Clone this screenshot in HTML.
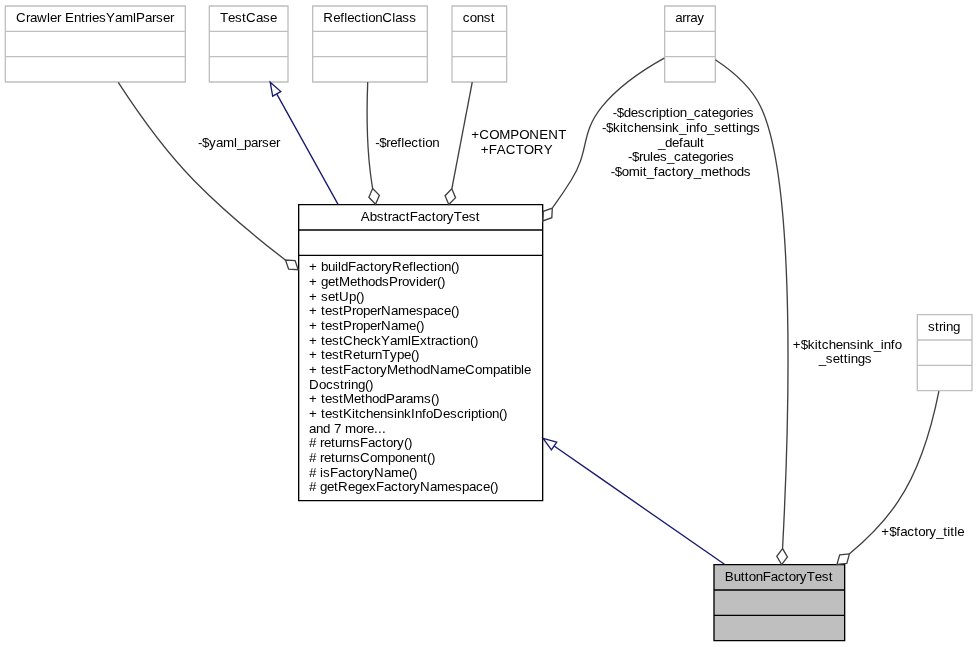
<!DOCTYPE html>
<html lang="en">
<head>
<meta charset="utf-8">
<title>ButtonFactoryTest collaboration diagram</title>
<style>
html,body{margin:0;padding:0;background:#fff;}
svg{display:block;will-change:transform;}
svg text{font-family:"Liberation Sans",sans-serif;font-size:13.3333px;fill:#000;white-space:pre;}
</style>
</head>
<body>
<svg width="977" height="647" viewBox="0 0 977 647">
<g class="graph" transform="scale(1.33333) translate(4 481)">
<polygon fill="white" stroke="transparent" points="-4,4 -4,-481 729,-481 729,4 -4,4"/>
<g class="node">
<polygon fill="#bfbfbf" stroke="black" points="531.5,-0.5 531.5,-57.5 629.5,-57.5 629.5,-0.5 531.5,-0.5"/>
<polyline fill="none" stroke="black" points="531.5,-38.5 629.5,-38.5 "/>
<polyline fill="none" stroke="black" points="531.5,-19.5 629.5,-19.5 "/>
</g>
<g class="node">
<polygon fill="white" stroke="black" points="220,-105.5 220,-327.5 403,-327.5 403,-105.5 220,-105.5"/>
<polyline fill="none" stroke="black" points="220,-308.5 403,-308.5 "/>
<polyline fill="none" stroke="black" points="220,-289.5 403,-289.5 "/>
</g>
<g class="edge">
<path fill="none" stroke="midnightblue" d="M411.61,-146.47C456.06,-115.61 505.95,-80.99 539.61,-57.58"/>
<polygon fill="none" stroke="midnightblue" points="409.57,-143.62 403.32,-152.18 413.54,-149.38 409.57,-143.62"/>
</g>
<g class="node">
<polygon fill="white" stroke="#bfbfbf" points="0,-419.5 0,-476.5 135,-476.5 135,-419.5 0,-419.5"/>
<polyline fill="none" stroke="#bfbfbf" points="0,-457.5 135,-457.5 "/>
<polyline fill="none" stroke="#bfbfbf" points="0,-438.5 135,-438.5 "/>
</g>
<g class="edge">
<path fill="none" stroke="#404040" d="M84.7,-419.17C98.58,-397.77 119.38,-368.15 141.5,-345.6 162.15,-324.54 186.38,-304.15 209.97,-286.06"/>
<polygon fill="none" stroke="#404040" points="210.11,-285.96 212.48,-279.15 219.68,-278.72 217.31,-285.53 210.11,-285.96"/>
</g>
<g class="node">
<polygon fill="white" stroke="#bfbfbf" points="153,-419.5 153,-476.5 212,-476.5 212,-419.5 153,-419.5"/>
<polyline fill="none" stroke="#bfbfbf" points="153,-457.5 212,-457.5 "/>
<polyline fill="none" stroke="#bfbfbf" points="153,-438.5 212,-438.5 "/>
</g>
<g class="edge">
<path fill="none" stroke="midnightblue" d="M203.65,-410.43C216.16,-387.82 233.01,-357.49 249.62,-327.58"/>
<polygon fill="none" stroke="midnightblue" points="200.51,-408.88 198.66,-419.32 206.61,-412.31 200.51,-408.88"/>
</g>
<g class="node">
<polygon fill="white" stroke="#bfbfbf" points="230.5,-419.5 230.5,-476.5 316.5,-476.5 316.5,-419.5 230.5,-419.5"/>
<polyline fill="none" stroke="#bfbfbf" points="230.5,-457.5 316.5,-457.5 "/>
<polyline fill="none" stroke="#bfbfbf" points="230.5,-438.5 316.5,-438.5 "/>
</g>
<g class="edge">
<path fill="none" stroke="#404040" d="M271.78,-419.41C270.99,-399.02 270.9,-370.64 274.5,-346 274.8,-343.95 275.12,-341.88 275.47,-339.8"/>
<polygon fill="none" stroke="#404040" points="275.5,-339.63 272.66,-333 277.68,-327.83 280.53,-334.46 275.5,-339.63"/>
</g>
<g class="node">
<polygon fill="white" stroke="#bfbfbf" points="335,-419.5 335,-476.5 376,-476.5 376,-419.5 335,-419.5"/>
<polyline fill="none" stroke="#bfbfbf" points="335,-457.5 376,-457.5 "/>
<polyline fill="none" stroke="#bfbfbf" points="335,-438.5 376,-438.5 "/>
</g>
<g class="edge">
<path fill="none" stroke="#404040" d="M350.19,-419.32C346.28,-398.9 340.65,-369.56 334.9,-339.55"/>
<polygon fill="none" stroke="#404040" points="334.87,-339.37 329.81,-334.23 332.61,-327.58 337.66,-332.72 334.87,-339.37"/>
</g>
<g class="node">
<polygon fill="white" stroke="#bfbfbf" points="494.5,-419.5 494.5,-476.5 532.5,-476.5 532.5,-419.5 494.5,-419.5"/>
<polyline fill="none" stroke="#bfbfbf" points="494.5,-457.5 532.5,-457.5 "/>
<polyline fill="none" stroke="#bfbfbf" points="494.5,-438.5 532.5,-438.5 "/>
</g>
<g class="edge">
<path fill="none" stroke="#404040" d="M532.53,-436.18C544.62,-428.17 559.29,-416.05 566.5,-401 594.06,-343.49 587.38,-153.22 582.92,-69.79"/>
<polygon fill="none" stroke="#404040" points="582.91,-69.57 578.59,-63.8 582.25,-57.59 586.57,-63.36 582.91,-69.57"/>
</g>
<g class="edge">
<path fill="none" stroke="#404040" d="M494.21,-437.44C479.7,-429.42 460.22,-416.76 447.5,-401 430.86,-380.38 438.54,-368.47 424.5,-346 420.16,-339.06 415.45,-332.13 410.49,-325.28"/>
<polygon fill="none" stroke="#404040" points="410.24,-324.94 403.45,-322.51 403.07,-315.31 409.86,-317.74 410.24,-324.94"/>
</g>
<g class="node">
<polygon fill="white" stroke="#bfbfbf" points="684,-188 684,-245 725,-245 725,-188 684,-188"/>
<polyline fill="none" stroke="#bfbfbf" points="684,-226 725,-226 "/>
<polyline fill="none" stroke="#bfbfbf" points="684,-207 725,-207 "/>
</g>
<g class="edge">
<path fill="none" stroke="#404040" d="M700.18,-187.74C695.52,-164.18 686.37,-130.27 669.7,-105.1 660,-90.3 646.6,-76.9 633.14,-65.63"/>
<polygon fill="none" stroke="#404040" points="633.1,-65.6 625.8,-64.9 623.7,-57.67 631.1,-58.4 633.1,-65.6"/>
</g>
</g>
<g class="labels">
<text x="724.83 733.83 740.83 744.83 748.83 755.83 762.83 770.83 777.83 784.83 788.83 795.83 799.83 806.83 814.83 821.83 828.83" y="581">ButtonFactoryTest</text>
<text x="360.67 369.67 376.67 383.67 387.67 391.67 398.67 405.67 409.67 417.67 424.67 431.67 435.67 442.67 446.67 453.67 461.67 468.67 475.67" y="221">AbstractFactoryTest</text>
<text x="309.03 317.03 321.03 328.03 335.03 338.03 341.03 348.03 356.03 363.03 370.03 374.03 381.03 385.03 392.03 402.03 409.03 413.03 416.03 423.03 430.03 434.03 437.03 444.03 451.03 455.03" y="271">+ buildFactoryReflection()</text>
<text x="309.03 317.03 321.03 328.03 335.03 339.03 350.03 357.03 361.03 368.03 375.03 382.03 389.03 398.03 402.03 409.03 416.03 419.03 426.03 433.03 437.03 441.03" y="286">+ getMethodsProvider()</text>
<text x="309.03 317.03 321.03 328.03 335.03 339.03 349.03 356.03 360.03" y="301">+ setUp()</text>
<text x="309.03 317.03 321.03 325.03 332.03 339.03 343.03 352.03 356.03 363.03 370.03 377.03 381.03 391.03 398.03 409.03 416.03 423.03 430.03 437.03 444.03 451.03 455.03" y="315">+ testProperNamespace()</text>
<text x="309.03 317.03 321.03 325.03 332.03 339.03 343.03 352.03 356.03 363.03 370.03 377.03 381.03 391.03 398.03 409.03 416.03 420.03" y="330">+ testProperName()</text>
<text x="309.03 317.03 321.03 325.03 332.03 339.03 343.03 353.03 360.03 367.03 374.03 381.03 390.03 397.03 408.03 411.03 420.03 427.03 431.03 435.03 442.03 449.03 453.03 456.03 463.03 470.03 474.03" y="345">+ testCheckYamlExtraction()</text>
<text x="309.03 317.03 321.03 325.03 332.03 339.03 343.03 353.03 360.03 364.03 371.03 375.03 382.03 390.03 397.03 404.03 411.03 415.03" y="359">+ testReturnType()</text>
<text x="309.03 317.03 321.03 325.03 332.03 339.03 343.03 351.03 358.03 365.03 369.03 376.03 380.03 387.03 398.03 405.03 409.03 416.03 423.03 430.03 440.03 447.03 458.03 465.03 475.03 482.03 493.03 500.03 507.03 511.03 514.03 521.03 524.03" y="374">+ testFactoryMethodNameCompatible</text>
<text x="309.03 319.03 326.03 333.03 340.03 344.03 348.03 351.03 358.03 365.03 369.03" y="389">Docstring()</text>
<text x="309.03 317.03 321.03 325.03 332.03 339.03 343.03 354.03 361.03 365.03 372.03 379.03 386.03 395.03 402.03 406.03 413.03 424.03 431.03 435.03" y="403">+ testMethodParams()</text>
<text x="309.03 317.03 321.03 325.03 332.03 339.03 343.03 352.03 355.03 359.03 366.03 373.03 380.03 387.03 394.03 397.03 404.03 411.03 415.03 422.03 426.03 433.03 443.03 450.03 457.03 464.03 468.03 471.03 478.03 482.03 485.03 492.03 499.03 503.03" y="418">+ testKitchensinkInfoDescription()</text>
<text x="309.03 316.03 323.03 330.03 334.03 341.03 345.03 356.03 363.03 367.03 374.03 378.03 382.03" y="433">and 7 more...</text>
<text x="309.03 316.03 320.03 324.03 331.03 335.03 342.03 346.03 353.03 360.03 368.03 375.03 382.03 386.03 393.03 397.03 404.03 408.03" y="447"># returnsFactory()</text>
<text x="309.03 316.03 320.03 324.03 331.03 335.03 342.03 346.03 353.03 360.03 370.03 377.03 388.03 395.03 402.03 409.03 416.03 423.03 427.03 431.03" y="462"># returnsComponent()</text>
<text x="309.03 316.03 320.03 323.03 330.03 338.03 345.03 352.03 356.03 363.03 367.03 374.03 384.03 391.03 402.03 409.03 413.03" y="477"># isFactoryName()</text>
<text x="309.03 316.03 320.03 327.03 334.03 338.03 348.03 355.03 362.03 369.03 376.03 384.03 391.03 398.03 402.03 409.03 413.03 420.03 430.03 437.03 448.03 455.03 462.03 469.03 476.03 483.03 490.03 494.03" y="491"># getRegexFactoryNamespace()</text>
<text x="16.08 26.08 30.08 37.08 47.08 50.08 57.08 61.08 65.08 74.08 81.08 85.08 89.08 92.08 99.08 106.08 115.08 122.08 133.08 136.08 145.08 152.08 156.08 163.08 170.08" y="22">Crawler EntriesYamlParser</text>
<text x="198.08 202.08 209.08 216.08 223.08 234.08 237.08 244.08 251.08 258.08 262.08 269.08 276.08" y="147">-$yaml_parser</text>
<text x="219.92 227.92 234.92 241.92 245.92 255.92 262.92 269.92" y="22">TestCase</text>
<text x="323.25 333.25 340.25 344.25 347.25 354.25 361.25 365.25 368.25 375.25 382.25 392.25 395.25 402.25 409.25" y="22">ReflectionClass</text>
<text x="375.25 379.25 386.25 390.25 397.25 401.25 404.25 411.25 418.25 422.25 425.25 432.25" y="147">-$reflection</text>
<text x="462.83 469.83 476.83 483.83 490.83" y="22">const</text>
<text x="471.33 479.33 489.33 499.33 510.33 519.33 529.33 539.33 548.33 558.33" y="139">+COMPONENT</text>
<text x="480.83 488.83 496.83 505.83 515.83 523.83 533.83 543.83" y="153.66">+FACTORY</text>
<text x="675.25 682.25 686.25 690.25 697.25" y="22">array</text>
<text x="792.67 800.67 807.67 814.67 817.67 821.67 828.67 835.67 842.67 849.67 856.67 859.67 866.67 873.67 880.67 883.67 890.67 894.67" y="349">+$kitchensink_info</text>
<text x="818.83 825.83 832.83 839.83 843.83 847.83 850.83 857.83 864.83" y="363">_settings</text>
<text x="612.83 616.83 623.83 630.83 637.83 644.83 651.83 655.83 658.83 665.83 669.83 672.83 679.83 686.83 693.83 700.83 707.83 711.83 718.83 725.83 732.83 736.83 739.83 746.83" y="117">-$description_categories</text>
<text x="602 606 613 620 623 627 634 641 648 655 662 665 672 679 686 689 696 700 707 714 721 728 732 736 739 746 753" y="132">-$kitchensink_info_settings</text>
<text x="658.08 665.08 672.08 679.08 683.08 690.08 697.08 700.08" y="147">_default</text>
<text x="628.08 632.08 639.08 643.08 650.08 653.08 660.08 667.08 674.08 681.08 688.08 692.08 699.08 706.08 713.08 717.08 720.08 727.08" y="161">-$rules_categories</text>
<text x="610.83 614.83 621.83 628.83 639.83 642.83 646.83 653.83 657.83 664.83 671.83 675.83 682.83 686.83 693.83 700.83 711.83 718.83 722.83 729.83 736.83 743.83" y="176">-$omit_factory_methods</text>
<text x="927.92 934.92 938.92 942.92 945.92 952.92" y="331">string</text>
<text x="881.29 889.29 896.29 900.29 907.29 914.29 918.29 925.29 929.29 936.29 943.29 947.29 950.29 954.29 957.29" y="536">+$factory_title</text>
</g>
</svg>
</body>
</html>
